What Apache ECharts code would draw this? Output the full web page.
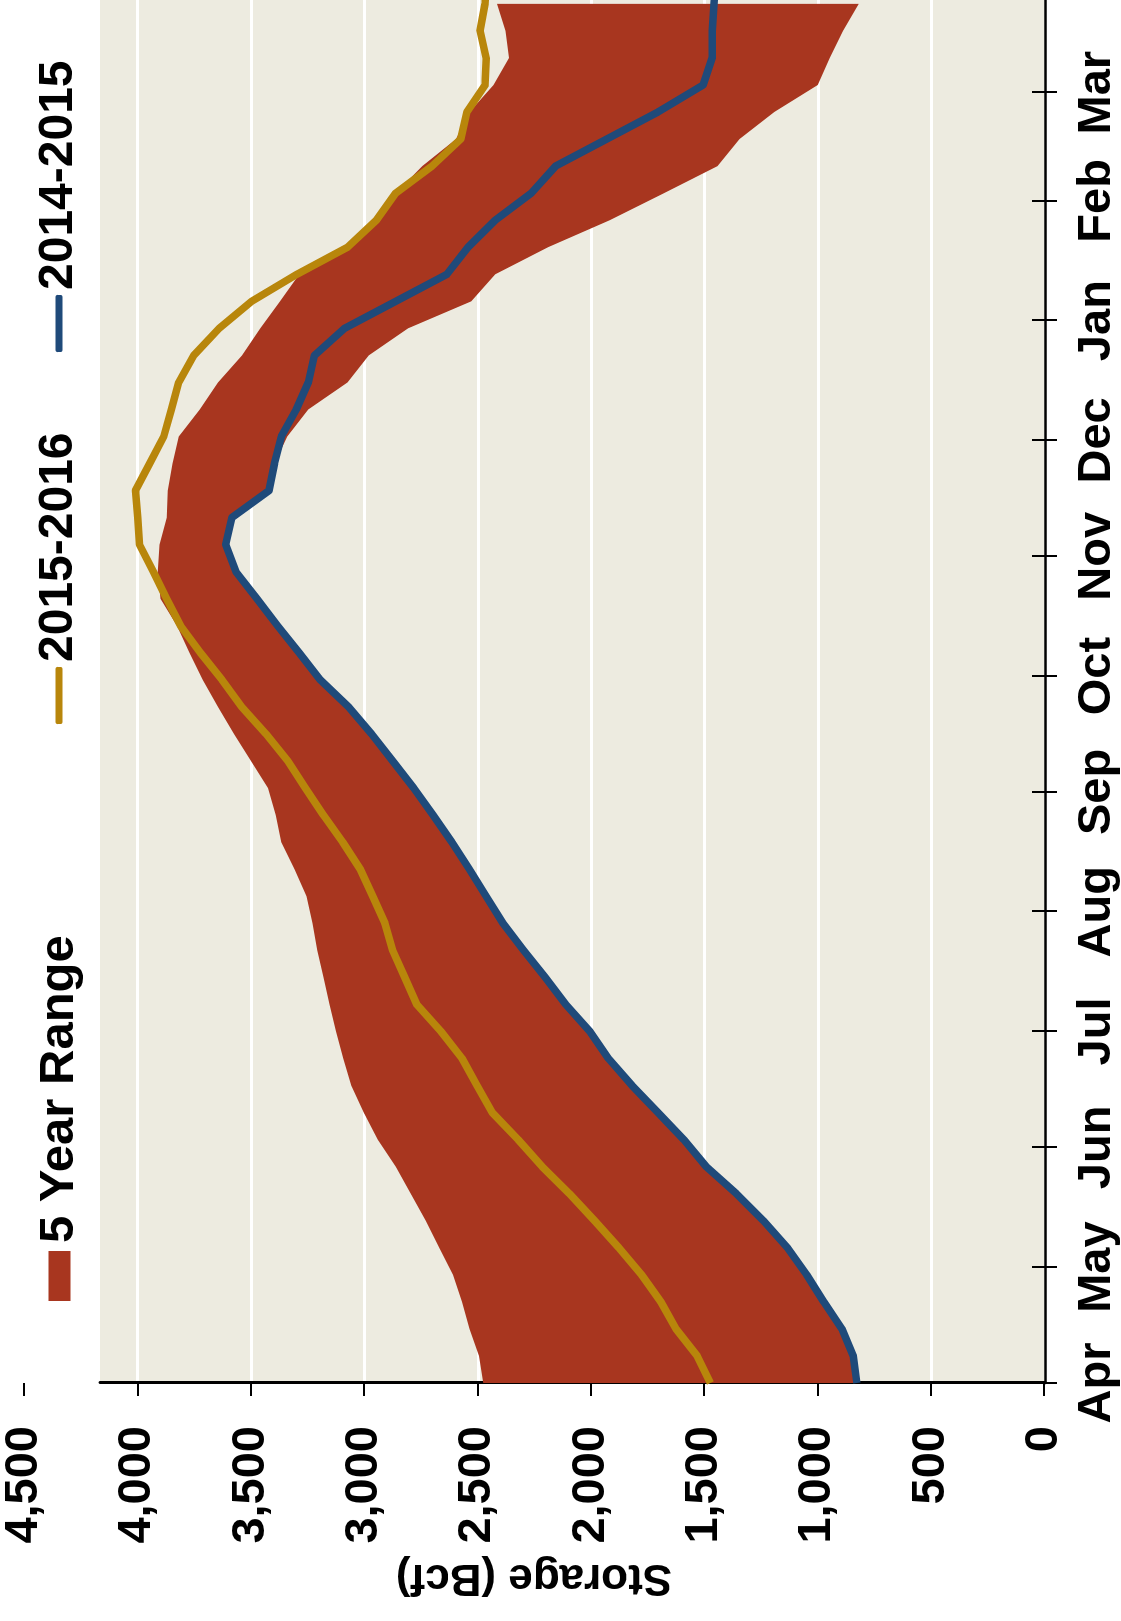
<!DOCTYPE html>
<html>
<head>
<meta charset="utf-8">
<script src="https://cdn.jsdelivr.net/npm/echarts@6/dist/echarts.min.js"></script>
<style>
html,body{margin:0;padding:0;background:#ffffff;overflow:hidden;width:1121px;height:1621px;}
#chart{position:absolute;left:0;top:0;width:1621px;height:1121px;transform-origin:0 0;transform:translateY(1621px) rotate(-90deg);}
</style>
</head>
<body>
<div id="chart"></div>
<script>
// ---------------- data ----------------
const monthNames = ['Apr','May','Jun','Jul','Aug','Sep','Oct','Nov','Dec','Jan','Feb','Mar'];
const monthStartDays = [0,30,61,91,122,153,183,214,244,275,306,334];   // days after Apr 1
const storageTicks = [0,500,1000,1500,2000,2500,3000,3500,4000,4500];

// weekly observation days (days after Apr 1)
const weekDays = [0,7,14,21,28,35,42,49,56,63,70,77,84,91,98,105,112,119,126,133,140,147,154,161,168,175,182,189,196,203,210,217,224,231,238,245,252,259,266,273,280,287,294,301,308,315,322,329,336,343,350,357,364];

// 5 year range (Bcf)
const rangeHigh = [2476,2495,2537,2569,2609,2670,2729,2795,2862,2941,3002,3058,3093,3125,3154,3180,3207,3228,3255,3308,3366,3390,3425,3499,3574,3645,3712,3770,3826,3898,3911,3903,3871,3866,3845,3818,3725,3645,3539,3459,3372,3287,3074,2955,2862,2745,2596,2537,2431,2362,2378,2415];
const rangeLow  = [829,845,895,975,1050,1135,1241,1360,1493,1592,1706,1820,1924,2006,2112,2203,2298,2389,2463,2537,2614,2697,2782,2875,2968,3069,3194,3287,3382,3473,3566,3611,3584,3420,3396,3340,3247,3074,2981,2808,2529,2423,2190,1918,1679,1443,1347,1193,1002,949,890,821];

// 2014-2015 storage (Bcf)
const s2014_2015 = [829,845,895,975,1050,1135,1241,1360,1493,1592,1706,1820,1924,2006,2112,2203,2298,2389,2463,2537,2614,2697,2782,2875,2968,3069,3194,3287,3382,3473,3566,3611,3584,3420,3396,3366,3300,3247,3220,3087,2862,2636,2543,2423,2264,2157,1932,1706,1507,1467,1467,1459,1451];
// 2015-2016 storage (Bcf)
const s2015_2016 = [1475,1533,1626,1693,1778,1878,1985,2096,2216,2322,2436,2503,2569,2662,2769,2822,2875,2909,2963,3018,3095,3180,3260,3337,3433,3540,3627,3722,3810,3871,3930,3991,3999,4009,3946,3884,3850,3818,3752,3640,3497,3297,3074,2947,2862,2702,2575,2548,2468,2463,2490,2468,2465];

// ---------------- styling ----------------
const RED = '#A8361F';
const GOLD = '#B8860B';
const BLUE = '#1F4A7A';
const BEIGE = '#EDEBE0';
const FONT = '"Liberation Sans", Arial, Helvetica, sans-serif';
const PLOT_TOP_VALUE = 4165;   // value at which the shaded plot area ends
const DAY_MAX = 358;

const pairs = (xs, ys) => ys.map((v, i) => [xs[i], v]);
const bandData = rangeHigh.map((v, i) => [weekDays[i], rangeLow[i], v]);

const chart = echarts.init(document.getElementById('chart'), null, {renderer: 'canvas', width: 1621, height: 1121});

const textBase = {fontFamily: FONT, fontWeight: 'bold', color: '#000'};

function renderBand(params, api) {
  if (params.dataIndex !== 0) return null;
  const upper = bandData.map(d => api.coord([d[0], d[2]]));
  const lower = bandData.map(d => api.coord([d[0], d[1]])).reverse();
  return {
    type: 'polygon',
    shape: {points: upper.concat(lower)},
    style: {fill: RED, stroke: null}
  };
}

const option = {
  animation: false,
  backgroundColor: '#ffffff',
  legend: [
    {data: [{name: '5 Year Range', icon: 'rect', itemStyle: {color: RED}}], left: 320, top: 35, padding: 0,
     itemWidth: 50, itemHeight: 22, selectedMode: false, textStyle: Object.assign({fontSize: 49, padding: [0, 0, 0, 3]}, textBase)},
    {data: [{name: '2015-2016', icon: 'roundRect', itemStyle: {color: GOLD}}], left: 897, top: 35, padding: 0,
     itemWidth: 57, itemHeight: 7, selectedMode: false, textStyle: Object.assign({fontSize: 48}, textBase)},
    {data: [{name: '2014-2015', icon: 'roundRect', itemStyle: {color: BLUE}}], left: 1269, top: 35, padding: 0,
     itemWidth: 57, itemHeight: 7, selectedMode: false, textStyle: Object.assign({fontSize: 48}, textBase)}
  ],
  grid: [
    {left: 238, top: 100, right: 0, bottom: 76, show: true, backgroundColor: BEIGE, borderWidth: 0, containLabel: false},
    {left: 238, top: 24, right: 0, bottom: 76, show: false, containLabel: false}
  ],
  xAxis: [
    {gridIndex: 0, type: 'value', min: 0, max: DAY_MAX,
     axisLine: {show: true, onZero: false, lineStyle: {color: '#000', width: 2.5}},
     axisTick: {show: true, inside: true, length: 13, customValues: monthStartDays, lineStyle: {color: '#000', width: 2}},
     axisLabel: {show: false}, splitLine: {show: false}},
    {gridIndex: 1, type: 'value', min: 0, max: DAY_MAX,
     axisLine: {show: false, onZero: false},
     axisTick: {show: true, inside: false, length: 13, customValues: monthStartDays, lineStyle: {color: '#000', width: 2}},
     axisLabel: Object.assign({show: true, customValues: monthStartDays, margin: 30, fontSize: 47,
       formatter: function (v) { const i = monthStartDays.indexOf(v); return i >= 0 ? monthNames[i] : ''; }}, textBase),
     splitLine: {show: false}}
  ],
  yAxis: [
    {gridIndex: 0, type: 'value', min: 0, max: PLOT_TOP_VALUE, interval: 500,
     axisLine: {show: true, onZero: false, lineStyle: {color: '#000', width: 3}},
     axisTick: {show: false}, axisLabel: {show: false},
     splitLine: {show: true, showMaxLine: false, lineStyle: {color: '#ffffff', width: 3}}},
    {gridIndex: 1, type: 'value', min: 0, max: storageTicks[storageTicks.length - 1], interval: 500,
     axisLine: {show: false, onZero: false},
     axisTick: {show: true, inside: false, length: 13, lineStyle: {color: '#000', width: 2}},
     axisLabel: Object.assign({show: true, margin: 43, fontSize: 47,
       formatter: function (v) { return v.toLocaleString('en-US'); }}, textBase),
     splitLine: {show: false},
     name: 'Storage (Bcf)', nameLocation: 'middle', nameRotate: 90, nameGap: 172,
     nameTextStyle: Object.assign({fontSize: 44}, textBase)}
  ],
  series: [
    {name: '5 Year Range', type: 'custom', xAxisIndex: 0, yAxisIndex: 0,
     data: bandData, encode: {x: 0, y: [1, 2]}, renderItem: renderBand,
     itemStyle: {color: RED}, silent: true, z: 2},
    {name: '2014-2015', type: 'line', xAxisIndex: 0, yAxisIndex: 0,
     data: pairs(weekDays, s2014_2015), symbol: 'none', silent: true, color: BLUE,
     lineStyle: {color: BLUE, width: 7.5, join: 'round'}, z: 3},
    {name: '2015-2016', type: 'line', xAxisIndex: 0, yAxisIndex: 0,
     data: pairs(weekDays, s2015_2016), symbol: 'none', silent: true, color: GOLD,
     lineStyle: {color: GOLD, width: 7.5, join: 'round'}, z: 4}
  ]
};
chart.setOption(option);
</script>
</body>
</html>
